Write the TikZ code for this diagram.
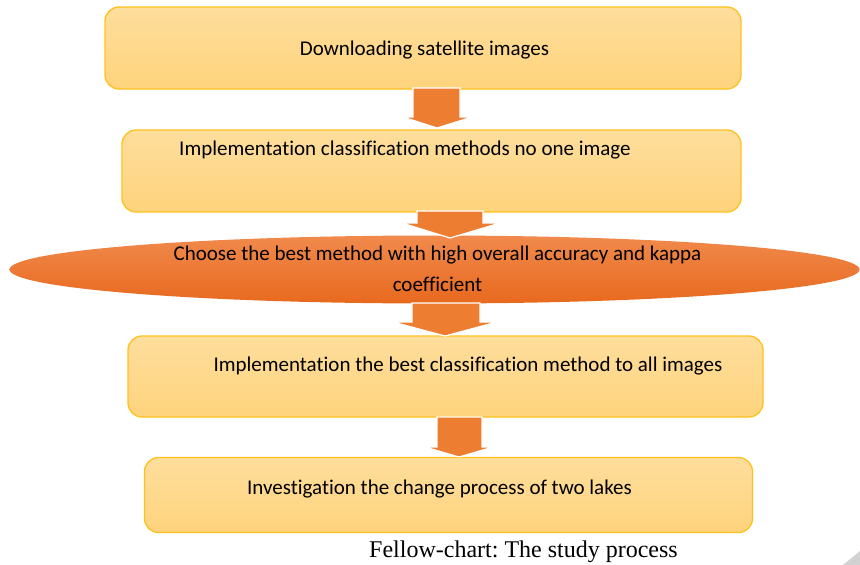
\documentclass[tikz,border=0pt]{standalone}
\usepackage{fontspec}
\setmainfont[Ligatures=NoCommon]{Carlito}
\newfontfamily\capfont{Liberation Serif}
\definecolor{boxtop}{HTML}{FEDE9D}
\definecolor{boxbot}{HTML}{FED37C}
\definecolor{boxline}{HTML}{FFC11E}
\definecolor{arrowfill}{HTML}{ED7D31}
\definecolor{elltop}{HTML}{F08A4C}
\definecolor{ellbot}{HTML}{E8691E}
\frenchspacing
\begin{document}
\begin{tikzpicture}[x=1pt,y=-1pt,
  box/.style={draw=boxline, line width=1.3pt, rounded corners=14pt, top color=boxtop, bottom color=boxbot, inner sep=0pt},
  blockarrow/.style={fill=arrowfill, draw=white, line width=1.2pt, line join=miter},
  lbl/.style={font=\fontsize{21}{25}\selectfont, inner sep=0pt, anchor=center, text=black}]
\useasboundingbox (0,0) rectangle (860,565);
\fill[white] (0,0) rectangle (860,565);
% boxes
\node[box, minimum width=636pt, minimum height=82pt] (b1) at (423,48) {};
\node[box, minimum width=619pt, minimum height=82pt] (b2) at (431.5,171) {};
\node[box, minimum width=635pt, minimum height=81pt] (b3) at (445.5,376.5) {};
\node[box, minimum width=608pt, minimum height=75pt] (b4) at (448.5,495) {};
% ellipse
\shade[top color=elltop, bottom color=ellbot] (434.5,269.5) ellipse (425 and 34);
% arrows
\draw[blockarrow] (413,88) -- (460,88) -- (460,117) -- (472,117) -- (437,128) -- (403,117) -- (413,117) -- cycle;
\draw[blockarrow] (417,211) -- (483,211) -- (483,223) -- (500,223) -- (450,238) -- (402,223) -- (417,223) -- cycle;
\draw[blockarrow] (412,303) -- (480,303) -- (480,322) -- (497,322) -- (445,336) -- (393,322) -- (412,322) -- cycle;
\draw[blockarrow] (437,417) -- (482,417) -- (482,447) -- (493,447) -- (459,457) -- (425,447) -- (437,447) -- cycle;
% texts
\node[lbl] (t1) at (424.5,50) {Downloading satellite images};
\node[lbl] (t2) at (405,150) {Implementation classification methods no one image};
\node[lbl] (t3a) at (437.5,255) {Choose the best method with high overall accuracy and kappa};
\node[lbl] (t3b) at (437.5,284) {coefficient};
\node[lbl] (t4) at (468,366) {Implementation the best classification method to all images};
\node[lbl] (t5) at (439.5,489) {Investigation the change process of two lakes};
\node[inner sep=0pt, font=\capfont\fontsize{24}{28}\selectfont] (cap) at (523.5,552) {Fellow-chart: The study process};
% page corner
\fill[gray!35] (843,565) -- (860,551) -- (860,565) -- cycle;
\end{tikzpicture}
\end{document}
